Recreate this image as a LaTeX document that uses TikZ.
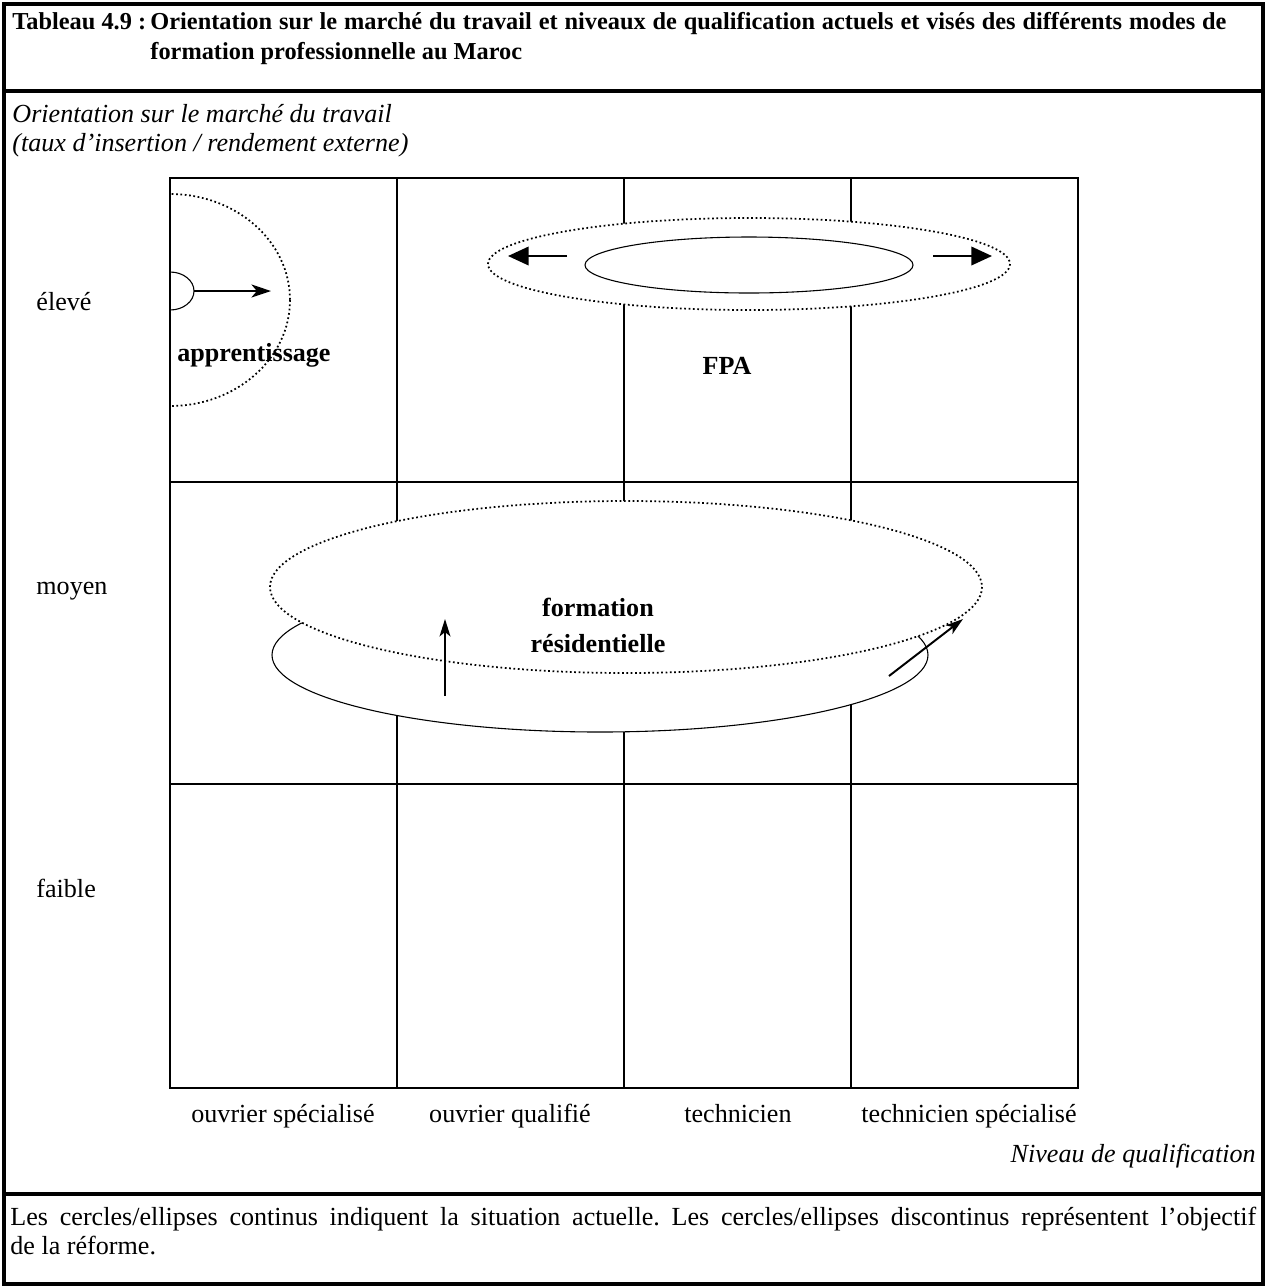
\documentclass[tikz,border=0pt]{standalone}
\usepackage{fontspec}
\setmainfont{Liberation Serif}
\usetikzlibrary{arrows.meta}
\frenchspacing
\begin{document}
\begin{tikzpicture}[x=0.46pt,y=-0.46pt,
  frameline/.style={line width=1.4pt},
  gridline/.style={line width=1pt},
  goal/.style={line width=0.8pt, dash pattern=on 0.8pt off 1.2pt, fill=white},
  now/.style={line width=0.5pt, fill=white},
  txt/.style={font=\fontsize{12}{14}\selectfont, inner sep=0pt},
  ttxt/.style={font=\fontsize{11.2}{13}\selectfont\bfseries, inner sep=0pt},
  itxt/.style={font=\fontsize{12}{14}\selectfont\itshape, inner sep=0pt},
  btxt/.style={font=\fontsize{12}{14}\selectfont\bfseries, inner sep=0pt},
  arrA/.style={line width=0.9pt, -{Stealth[length=9pt,width=6pt,inset=2.5pt]}},
  arrB/.style={line width=1pt, -{Triangle[length=9.5pt,width=8.5pt]}},
  arrC/.style={line width=0.9pt, -{Stealth[length=8pt,width=5pt,inset=2pt]}}
]
\useasboundingbox (0,0) rectangle (1267,1288);
% frame
\draw[frameline] (4,4) rectangle (1263,1284);
\draw[frameline] (4,91) -- (1263,91);
\draw[frameline] (4,1194) -- (1263,1194);
% title
\node[ttxt, anchor=base west] (ttl) at (12,29) {Tableau 4.9 :};
\node[ttxt, anchor=base west] (ttl1) at (150,29) {\makebox[495pt][s]{Orientation sur le marché du travail et niveaux de qualification actuels et visés des différents modes de}};
\node[ttxt, anchor=base west] (ttl2) at (150,59) {formation professionnelle au Maroc};
% y axis label
\node[itxt, anchor=base west] (ya1) at (12,122) {Orientation sur le marché du travail};
\node[itxt, anchor=base west] (ya2) at (12,151) {(taux d’insertion / rendement externe)};
% grid
\draw[gridline] (170,178) rectangle (1078,1088);
\foreach \x in {397,624,851} \draw[gridline] (\x,178) -- (\x,1088);
\foreach \y in {482,784} \draw[gridline] (170,\y) -- (1078,\y);
% row labels
\node[txt, anchor=base west] (r1) at (36,310) {élevé};
\node[txt, anchor=base west] (r2) at (36,594) {moyen};
\node[txt, anchor=base west] (r3) at (36,897) {faible};
% column labels
\node[txt, anchor=base] (c1) at (283,1122) {ouvrier spécialisé};
\node[txt, anchor=base] (c2) at (510,1122) {ouvrier qualifié};
\node[txt, anchor=base] (c3) at (738,1122) {technicien};
\node[txt, anchor=base] (c4) at (969,1122) {technicien spécialisé};
\node[itxt, anchor=base east] (xa) at (1256,1162) {Niveau de qualification};
% FPA
\draw[goal] (749,264) ellipse [x radius=261, y radius=46];
\draw[now] (749,265) ellipse [x radius=164, y radius=28];
\coordinate (f1) at (567,256); \coordinate (f2) at (508,256);
\coordinate (f3) at (933,256); \coordinate (f4) at (992,256);
\draw[arrB] (f1) -- (f2);
\draw[arrB] (f3) -- (f4);
\node[btxt, anchor=base] (fpa) at (727,374) {FPA};
% formation residentielle
\draw[now] (600,655) ellipse [x radius=328, y radius=77];
\draw[goal] (626,587) ellipse [x radius=356, y radius=86];
\node[btxt, anchor=base] (fr1) at (598,616) {formation};
\node[btxt, anchor=base] (fr2) at (598,652) {résidentielle};
\coordinate (g1) at (445,696); \coordinate (g2) at (445,619);
\coordinate (g3) at (889,676); \coordinate (g4) at (963,619);
\draw[arrC] (g1) -- (g2);
\draw[arrC] (g3) -- (g4);
% apprentissage
\begin{scope}
\clip (170,170) rectangle (420,470);
\draw[goal, fill=none] (170,300) ellipse [x radius=120, y radius=106];
\draw[line width=0.5pt] (170,291) ellipse [x radius=24, y radius=19];
\end{scope}
\coordinate (a1) at (194,291); \coordinate (a2) at (271,291);
\draw[arrA] (a1) -- (a2);
\node[btxt, anchor=base] (app) at (254,361) {apprentissage};
% footer
\node[txt, anchor=base west] (n1) at (10,1225) {\makebox[573pt][s]{Les cercles/ellipses continus indiquent la situation actuelle. Les cercles/ellipses discontinus représentent l’objectif}};
\node[txt, anchor=base west] (n2) at (10,1254) {de la réforme.};
\end{tikzpicture}
\end{document}
